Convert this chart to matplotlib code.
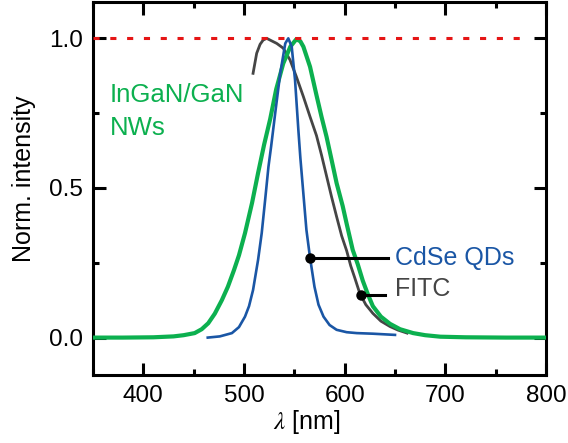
import numpy as np
import matplotlib
matplotlib.use("Agg")
import matplotlib.pyplot as plt
from matplotlib.ticker import MultipleLocator, FormatStrFormatter

plt.rcParams['font.family'] = ['Liberation Sans', 'DejaVu Sans']
plt.rcParams['mathtext.fontset'] = 'stix'

# Emission spectra, normalised intensity vs wavelength (nm)
green_nm = [350, 380, 410, 430, 440, 451, 458, 464.5, 471, 478, 484, 490, 495, 501,
            508, 514, 520, 526, 532, 539, 546, 552, 556, 559, 565.6, 572, 577, 582,
            587, 592, 598, 602, 608, 613, 618, 623, 628, 636, 645, 655, 668, 680,
            695, 720, 760, 800]
green_y = [0.0, 0.0, 0.001, 0.004, 0.008, 0.015, 0.028, 0.048, 0.08, 0.125, 0.17,
           0.225, 0.275, 0.349, 0.45, 0.55, 0.645, 0.73, 0.83, 0.916, 0.972, 0.997,
           0.99, 0.972, 0.905, 0.81, 0.738, 0.671, 0.594, 0.516, 0.44, 0.38, 0.293,
           0.245, 0.19, 0.145, 0.105, 0.07, 0.046, 0.028, 0.015, 0.008, 0.003, 0.001,
           0.0, 0.0]

blue_nm = [464, 476, 488, 495, 501, 505, 509, 514, 517.6, 521, 524.3, 527, 531, 536,
           541, 544, 547.4, 550.7, 554, 556, 559, 562, 565.6, 570, 574, 579, 585, 592,
           602, 612, 628, 650]
blue_y = [0.0, 0.004, 0.015, 0.035, 0.07, 0.105, 0.159, 0.26, 0.349, 0.46, 0.571, 0.64,
          0.75, 0.883, 0.983, 1.0, 0.972, 0.861, 0.694, 0.6, 0.48, 0.36, 0.267, 0.17,
          0.11, 0.07, 0.042, 0.026, 0.018, 0.015, 0.013, 0.009]

gray_nm = [509, 512.6, 516, 519, 522.5, 526, 532.5, 539, 545.7, 552, 559, 565.6, 572,
           577, 582, 587, 592, 597, 602, 606, 610, 615, 621, 628, 636, 645, 653, 662]
gray_y = [0.883, 0.95, 0.98, 0.994, 1.0, 0.994, 0.983, 0.967, 0.928, 0.872, 0.805,
          0.738, 0.675, 0.61, 0.54, 0.47, 0.404, 0.34, 0.29, 0.24, 0.2, 0.148, 0.11,
          0.081, 0.055, 0.037, 0.025, 0.015]

ref_nm = [350, 775]
ref_y = [1.0, 1.0]

# label pointer positions (nm) on the curves and where the pointers end
cdse_dot_nm, cdse_end_nm = 565.6, 643
fitc_dot_nm, fitc_end_nm = 616.0, 640
label_nm = 650

GREEN = '#0cb04f'
BLUE = '#1a56a5'
GRAY = '#454545'
RED = '#e51515'

fig = plt.figure(figsize=(5.68, 4.43), dpi=100)
ax = fig.add_axes([0.1637, 0.1535, 0.7976, 0.8431])

ax.plot(gray_nm, gray_y, color=GRAY, lw=2.0, zorder=2)
ax.plot(green_nm, green_y, color=GREEN, lw=3.0, zorder=3)
ax.plot(blue_nm, blue_y, color=BLUE, lw=1.9, zorder=4)
ax.plot(ref_nm, ref_y, color=RED, lw=2.2, dashes=(2.0, 3.5), zorder=5)

# pointer lines to the series labels
cdse_y = np.interp(cdse_dot_nm, blue_nm, blue_y)
fitc_y = np.interp(fitc_dot_nm, gray_nm, gray_y)
ax.plot([cdse_dot_nm, cdse_end_nm], [cdse_y, cdse_y], color='black', lw=2.2, zorder=6)
ax.plot([cdse_dot_nm], [cdse_y], 'o', color='black', ms=6.5, zorder=7)
ax.plot([fitc_dot_nm, fitc_end_nm], [fitc_y, fitc_y], color='black', lw=2.2, zorder=6)
ax.plot([fitc_dot_nm], [fitc_y], 'o', color='black', ms=6.5, zorder=7)

ax.text(label_nm, cdse_y, 'CdSe QDs', color=BLUE, fontsize=18, ha='left', va='center')
ax.text(label_nm, fitc_y + 0.02, 'FITC', color=GRAY, fontsize=18, ha='left', va='center')
ax.text(367, 0.787, 'InGaN/GaN', color=GREEN, fontsize=18.5, ha='left', va='baseline')
ax.text(367, 0.677, 'NWs', color=GREEN, fontsize=18.5, ha='left', va='baseline')

ax.set_xlim(350, 800)
ax.set_ylim(-0.125, 1.123)
ax.xaxis.set_major_locator(MultipleLocator(100))
ax.xaxis.set_minor_locator(MultipleLocator(50))
ax.yaxis.set_major_locator(MultipleLocator(0.5))
ax.yaxis.set_minor_locator(MultipleLocator(0.25))
ax.xaxis.set_major_formatter(FormatStrFormatter('%d'))
ax.yaxis.set_major_formatter(FormatStrFormatter('%.1f'))

ax.tick_params(which='both', direction='in', top=True, right=True, width=2.2,
               labelsize=17.5, colors='black')
ax.tick_params(which='major', length=9, pad=7)
ax.tick_params(which='minor', length=4.5)
for s in ax.spines.values():
    s.set_linewidth(2.2)

fig.text(24 / 568, 1 - 179 / 443, 'Norm. intensity', rotation=90, fontsize=18,
         ha='center', va='center')
fig.text(307 / 568, 1 - 422 / 443, r'$\lambda$ [nm]', fontsize=18,
         ha='center', va='center')

fig.savefig('out.png', dpi=100)
